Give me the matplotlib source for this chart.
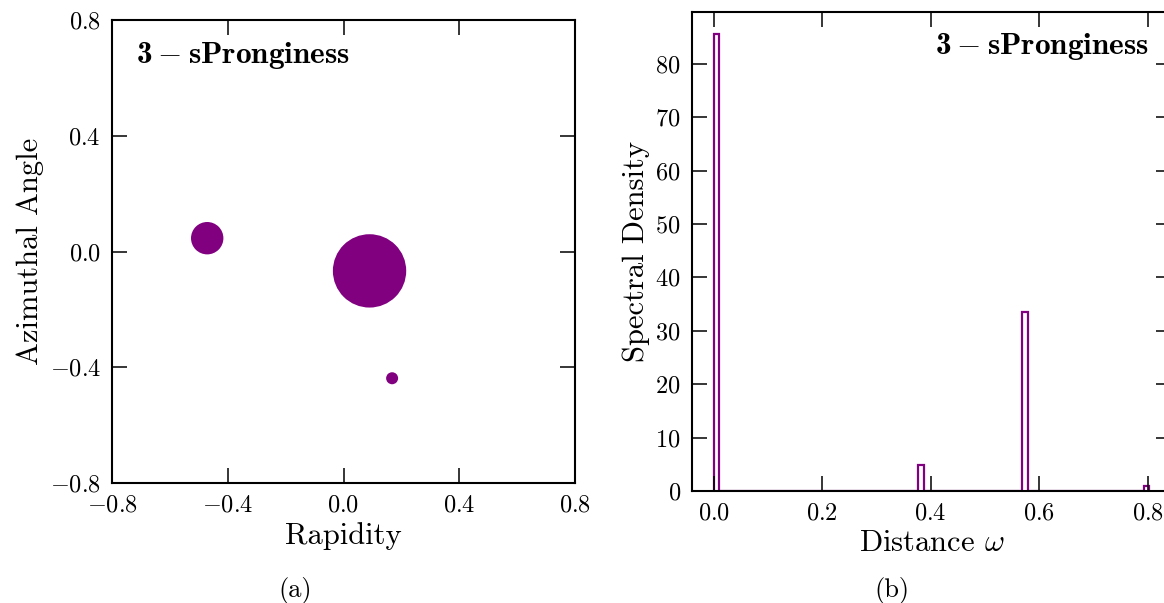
import numpy as np
import matplotlib
matplotlib.use('Agg')
import matplotlib.pyplot as plt

# particle positions (rapidity, azimuth) and energy fractions
rap = [-0.471, 0.090, 0.168]
phi = [0.046, -0.067, -0.438]
frac = [0.16, 0.82, 0.022]

# spectral density histogram: bin edges and heights
edges = [0.0, 0.0098, 0.376, 0.387, 0.568, 0.579, 0.793, 0.803]
density = [85.5, 0.0, 4.8, 0.0, 33.5, 0.0, 1.0]

xticks_a = [-0.8, -0.4, 0.0, 0.4, 0.8]
xticks_b = [0.0, 0.2, 0.4, 0.6, 0.8]
yticks_b = [0, 10, 20, 30, 40, 50, 60, 70, 80]

purple = '#800080'
tag = r'$\mathbf{3} - \mathbf{sPronginess}$'

plt.rcParams['font.family'] = 'cmr10'
plt.rcParams['mathtext.fontset'] = 'cm'
plt.rcParams['axes.formatter.use_mathtext'] = True
plt.rcParams['axes.linewidth'] = 1.5
# bold computer modern for the tag text
plt.rcParams['mathtext.bf'] = 'cmb10'
plt.rcParams['mathtext.rm'] = 'cmr10'
plt.rcParams['mathtext.fallback'] = 'cm'

W, H = 1164, 603
fig = plt.figure(figsize=(W / 100, H / 100), dpi=100)

def tick_style(ax):
    ax.tick_params(direction='in', length=10.5, width=1.1, top=True, right=True,
                   labelsize=17.5, pad=8)

# (a) event display
ax1 = fig.add_axes([112 / W, 1 - 483 / H, 463 / W, 463 / H])
ax1.scatter(rap, phi, s=np.array(frac) * 3400, color=purple, edgecolors='none')
ax1.set_xlim(-0.8, 0.8)
ax1.set_ylim(-0.8, 0.8)
ax1.set_xticks(xticks_a)
ax1.set_yticks(xticks_a)
tick_style(ax1)
ax1.set_xlabel('Rapidity', fontsize=22)
ax1.set_ylabel('Azimuthal Angle', fontsize=22)
ax1.text(0.052, 0.96, tag, transform=ax1.transAxes, ha='left', va='top',
         fontsize=22.5, math_fontfamily='custom')

# (b) spectral function
ax2 = fig.add_axes([692 / W, 1 - 491 / H, 479 / W, 479 / H])
ax2.stairs(density, edges, color=purple, linewidth=1.6)
ax2.set_xlim(-0.04, 0.843)
ax2.set_ylim(0, 89.7)
ax2.set_xticks(xticks_b)
ax2.set_yticks(yticks_b)
tick_style(ax2)
ax2.set_xlabel(r'Distance $\omega$', fontsize=22)
ax2.set_ylabel('Spectral Density', fontsize=22)
ax2.text(0.954, 0.962, tag, transform=ax2.transAxes, ha='right', va='top',
         fontsize=22.5, math_fontfamily='custom')

fig.text(295 / W, 1 - 590 / H, '(a)', ha='center', va='center', fontsize=19)
fig.text(892 / W, 1 - 590 / H, '(b)', ha='center', va='center', fontsize=19)

fig.savefig('out.png', dpi=100)
